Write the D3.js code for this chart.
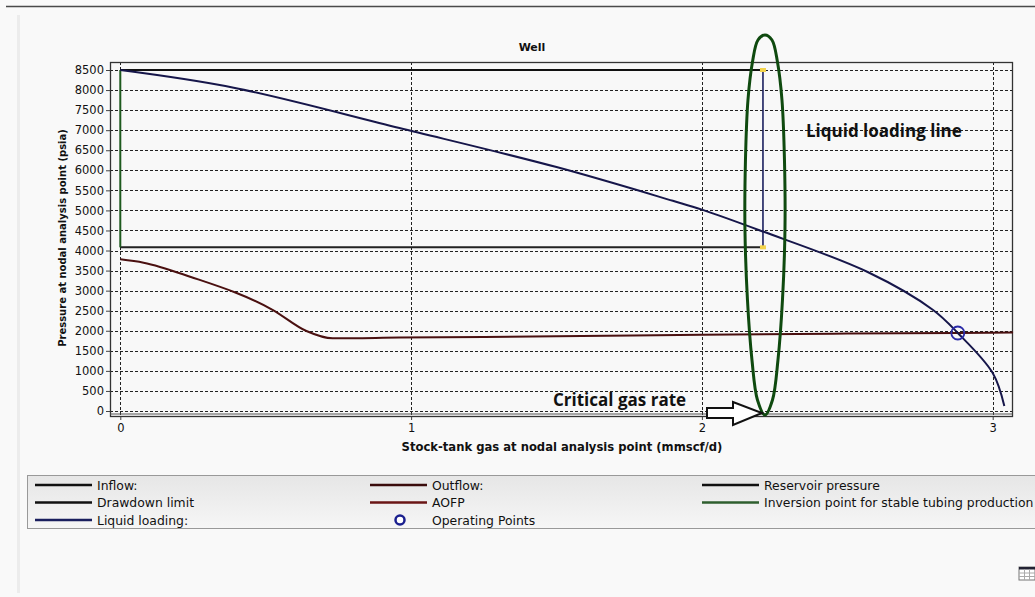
<!DOCTYPE html>
<html>
<head>
<meta charset="utf-8">
<script src="https://cdn.jsdelivr.net/npm/d3@7"></script>
<style>
  html, body { margin: 0; padding: 0; background: #f9f9f9; }
  svg { display: block; }
  text { font-family: "DejaVu Sans", sans-serif; fill: #111; }
</style>
</head>
<body>
<svg id="chart" width="1035" height="597"></svg>
<script>
// ---- Data (gas rate in mmscf/d, pressure in psia) ----
const inflowRate     = [0, 0.39, 0.96, 1.5, 1.9, 2.0, 2.2, 2.57, 2.795, 2.88, 3.0, 3.04];
const inflowPressure = [8500, 8060, 7054, 6080, 5240, 5020, 4500, 3465, 2518, 1944, 947, 125];

const outflowRate     = [0, 0.08, 0.24, 0.525, 0.64, 0.73, 0.96, 1.5, 2.0, 2.5, 2.88, 3.07];
const outflowPressure = [3781, 3697, 3348, 2517, 1994, 1812, 1830, 1862, 1900, 1930, 1944, 1955];

const reservoirPressure = 8500;
const drawdownLimit = 4080;
const criticalGasRate = 2.21;
const operatingPoint = { rate: 2.88, pressure: 1944 };

const yTicks = d3.range(0, 8501, 500);
const xTicks = [0, 1, 2, 3];

const legendItems = [
  { label: "Inflow:", color: "#111", col: 0, row: 0 },
  { label: "Drawdown limit", color: "#111", col: 0, row: 1 },
  { label: "Liquid loading:", color: "#1a1f5e", col: 0, row: 2 },
  { label: "Outflow:", color: "#3a0c0c", col: 1, row: 0 },
  { label: "AOFP", color: "#6a1515", col: 1, row: 1 },
  { label: "Operating Points", color: "#1a1f8e", col: 1, row: 2, marker: true },
  { label: "Reservoir pressure", color: "#111", col: 2, row: 0 },
  { label: "Inversion point for stable tubing production", color: "#2e5e2e", col: 2, row: 1 }
];

// ---- Layout ----
const svg = d3.select("#chart");
const frame = { left: 110, right: 1012, top: 62, bottom: 416 };

const x = d3.scaleLinear().domain([0, 3]).range([120.3, 992.7]);
const y = d3.scaleLinear().domain([0, 8500]).range([411, 70]);

// page chrome
svg.append("rect").attr("width", 1035).attr("height", 597).attr("fill", "#f9f9f9");
svg.append("line").attr("x1", 6).attr("x2", 1035).attr("y1", 6.5).attr("y2", 6.5)
  .attr("stroke", "#4a4a4a").attr("stroke-width", 1.5);
svg.append("rect").attr("x", 17).attr("y", 15).attr("width", 3).attr("height", 578).attr("fill", "#ececec");

// plot background
svg.append("rect").attr("x", frame.left).attr("y", frame.top)
  .attr("width", frame.right - frame.left).attr("height", frame.bottom - frame.top)
  .attr("fill", "#f8f8f8");

// gridlines
const grid = svg.append("g").attr("stroke", "#222").attr("stroke-width", 1)
  .attr("stroke-dasharray", "3,2").attr("fill", "none");
yTicks.forEach(v => {
  grid.append("line").attr("x1", frame.left).attr("x2", frame.right)
    .attr("y1", Math.round(y(v)) + 0.5).attr("y2", Math.round(y(v)) + 0.5);
});
xTicks.forEach(v => {
  grid.append("line").attr("y1", frame.top).attr("y2", frame.bottom)
    .attr("x1", Math.round(x(v)) + 0.5).attr("x2", Math.round(x(v)) + 0.5);
});

// axes
const yAxis = d3.axisLeft(y).tickValues(yTicks).tickFormat(d3.format("d")).tickSize(4).tickPadding(2);
const gy = svg.append("g").attr("transform", `translate(${frame.left},0)`).call(yAxis);
gy.select(".domain").remove();
gy.selectAll("line").attr("stroke", "#444");
gy.selectAll("text").style("font-size", "11.5px").style("font-family", "DejaVu Sans").attr("fill", "#1a1a1a");

const xAxis = d3.axisBottom(x).tickValues(xTicks).tickFormat(d3.format("d")).tickSize(4).tickPadding(4);
const gx = svg.append("g").attr("transform", `translate(0,${frame.bottom})`).call(xAxis);
gx.select(".domain").remove();
gx.selectAll("line").attr("stroke", "#444");
gx.selectAll("text").style("font-size", "11.5px").style("font-family", "DejaVu Sans").attr("fill", "#1a1a1a");

// frame (double bottom edge)
svg.append("rect").attr("x", frame.left + 0.5).attr("y", frame.top + 0.5)
  .attr("width", frame.right - frame.left).attr("height", frame.bottom - frame.top)
  .attr("fill", "none").attr("stroke", "#333").attr("stroke-width", 1.3);
svg.append("line").attr("x1", frame.left).attr("x2", frame.right + 0.5)
  .attr("y1", frame.bottom - 2).attr("y2", frame.bottom - 2).attr("stroke", "#555").attr("stroke-width", 1);

// titles
svg.append("text").attr("x", 532).attr("y", 51).attr("text-anchor", "middle")
  .style("font-size", "11px").style("font-weight", "bold").text("Well");
svg.append("text").attr("x", 562).attr("y", 451).attr("text-anchor", "middle")
  .style("font-size", "11.6px").style("font-weight", "bold")
  .text("Stock-tank gas at nodal analysis point (mmscf/d)");
svg.append("text").attr("transform", "translate(66,238) rotate(-90)").attr("text-anchor", "middle")
  .style("font-size", "10px").style("font-weight", "bold")
  .text("Pressure at nodal analysis point (psia)");

// reservoir pressure / drawdown box
const boxRight = x(criticalGasRate);
svg.append("line").attr("x1", x(0)).attr("x2", boxRight)
  .attr("y1", y(reservoirPressure)).attr("y2", y(reservoirPressure))
  .attr("stroke", "#111").attr("stroke-width", 2);
svg.append("line").attr("x1", x(0)).attr("x2", boxRight)
  .attr("y1", y(drawdownLimit)).attr("y2", y(drawdownLimit))
  .attr("stroke", "#222").attr("stroke-width", 2);
svg.append("line").attr("x1", x(0)).attr("x2", x(0))
  .attr("y1", y(reservoirPressure)).attr("y2", y(drawdownLimit))
  .attr("stroke", "#1e5a1e").attr("stroke-width", 2);

// liquid loading vertical line
svg.append("line").attr("x1", x(criticalGasRate)).attr("x2", x(criticalGasRate))
  .attr("y1", y(reservoirPressure)).attr("y2", y(drawdownLimit))
  .attr("stroke", "#1a1f5e").attr("stroke-width", 1.6);
[reservoirPressure, drawdownLimit].forEach(p => {
  svg.append("rect").attr("x", x(criticalGasRate) - 3).attr("y", y(p) - 2)
    .attr("width", 6).attr("height", 4).attr("fill", "#f3d34a");
});

// curves
const smooth = d3.line().curve(d3.curveCatmullRom.alpha(0.5));
svg.append("path")
  .attr("d", d3.line().curve(d3.curveMonotoneX)(outflowRate.map((r, i) => [x(r), y(outflowPressure[i])])))
  .attr("fill", "none").attr("stroke", "#4a1010").attr("stroke-width", 2);
svg.append("path")
  .attr("d", smooth(inflowRate.map((r, i) => [x(r), y(inflowPressure[i])])))
  .attr("fill", "none").attr("stroke", "#16164a").attr("stroke-width", 2);

// operating point
svg.append("circle").attr("cx", x(operatingPoint.rate)).attr("cy", y(operatingPoint.pressure))
  .attr("r", 6.5).attr("fill", "none").attr("stroke", "#2b2ba8").attr("stroke-width", 1.8);

// annotation: loop around the liquid loading line
const cx = x(criticalGasRate) + 2;
const loopHalf = [[35, 0], [40, 7], [62, 12.5], [100, 17], [160, 19.5], [230, 20], [300, 17.5], [360, 13], [400, 7.5], [415, 0]];
const loopPts = loopHalf.map(([py, w]) => [cx - w, py])
  .concat(loopHalf.slice(1, -1).reverse().map(([py, w]) => [cx + w, py]));
svg.append("path")
  .attr("d", d3.line().curve(d3.curveCatmullRomClosed)(loopPts))
  .attr("fill", "none").attr("stroke", "#0f4a0f").attr("stroke-width", 3);

svg.append("text").attr("x", 806).attr("y", 137)
  .style("font-family", "'Open Sans', sans-serif").style("font-size", "17px").style("font-weight", "bold")
  .text("Liquid loading line");
svg.append("text").attr("x", 553).attr("y", 406)
  .style("font-family", "'Open Sans', sans-serif").style("font-size", "17px").style("font-weight", "bold")
  .text("Critical gas rate");

// block arrow pointing at the critical gas rate
const tipX = x(criticalGasRate) - 1, ay = 413;
const arrowPts = [[707, ay - 5], [733, ay - 5], [733, ay - 11], [tipX, ay], [733, ay + 12], [733, ay + 5], [707, ay + 5]];
svg.append("path").attr("d", d3.line()(arrowPts) + "Z")
  .attr("fill", "#fff").attr("stroke", "#111").attr("stroke-width", 2);

// legend
const lg = svg.append("g");
const grad = svg.append("defs").append("linearGradient").attr("id", "lgBg")
  .attr("x1", 0).attr("x2", 0).attr("y1", 0).attr("y2", 1);
grad.append("stop").attr("offset", 0).attr("stop-color", "#e6e6e6");
grad.append("stop").attr("offset", 1).attr("stop-color", "#f6f6f6");
lg.append("rect").attr("x", 27.5).attr("y", 475.5).attr("width", 1020).attr("height", 53)
  .attr("fill", "url(#lgBg)").attr("stroke", "#999").attr("stroke-width", 1);
const colX = [35, 370, 702];
const rowY = [485, 502.5, 520];
legendItems.forEach(d => {
  const x0 = colX[d.col], yy = rowY[d.row];
  if (d.marker) {
    lg.append("circle").attr("cx", x0 + 30).attr("cy", yy).attr("r", 4.5)
      .attr("fill", "#fff").attr("stroke", d.color).attr("stroke-width", 2.5);
  } else {
    lg.append("line").attr("x1", x0).attr("x2", x0 + 57).attr("y1", yy).attr("y2", yy)
      .attr("stroke", d.color).attr("stroke-width", 2.6);
  }
  lg.append("text").attr("x", x0 + 62).attr("y", yy + 4.5)
    .style("font-size", "12.4px").text(d.label);
});

// small table icon
const icon = svg.append("g").attr("transform", "translate(1019,567)");
icon.append("rect").attr("width", 16).attr("height", 13).attr("fill", "#fff").attr("stroke", "#777");
icon.append("rect").attr("width", 16).attr("height", 2.5).attr("fill", "#223");
[6, 9.5].forEach(v => icon.append("line").attr("x1", 0).attr("x2", 16).attr("y1", v).attr("y2", v).attr("stroke", "#aaa"));
[5.5, 10.5].forEach(v => icon.append("line").attr("x1", v).attr("x2", v).attr("y1", 2.5).attr("y2", 13).attr("stroke", "#aaa"));
</script>
</body>
</html>
